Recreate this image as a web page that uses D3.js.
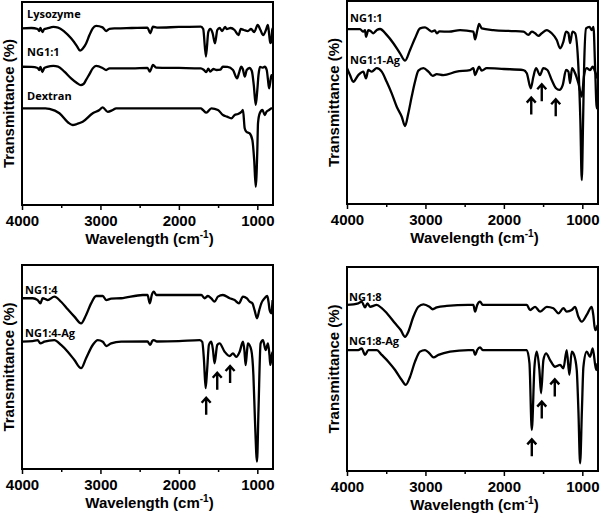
<!DOCTYPE html>
<html><head><meta charset="utf-8">
<script src="https://cdn.jsdelivr.net/npm/d3@7"></script>
<style>body{margin:0;background:#fff}</style>
</head><body>
<svg id="c" width="600" height="515"></svg>
<script>
// ---------- data (wavenumber cm-1, transmittance a.u.) ----------
const xTicks = [4000, 3000, 2000, 1000];
const xMinorTicks = [3500, 2500, 1500];
const xDomain = [4000, 800];
const yDomain = [0, 100];

const lysozyme = [[4000,87.0],[3880,87.2],[3800,86.7],[3780,85.7],[3765,87.2],[3740,85.2],[3715,86.7],[3680,87.0],[3600,87.7],[3540,87.4],[3460,85.4],[3374,82.1],[3300,78.3],[3260,76.0],[3220,77.3],[3183,79.6],[3140,83.7],[3098,87.0],[3055,88.2],[2973,87.5],[2927,85.7],[2885,86.8],[2800,87.0],[2600,87.2],[2400,87.4],[2365,84.6],[2330,87.8],[2280,87.4],[2000,87.7],[1720,87.9],[1690,86.7],[1655,73.1],[1625,85.2],[1600,86.7],[1570,84.7],[1540,79.6],[1510,86.2],[1480,87.2],[1450,85.7],[1410,87.7],[1390,86.7],[1340,87.2],[1290,86.2],[1240,83.7],[1210,86.7],[1170,86.2],[1120,85.7],[1080,86.7],[1040,85.2],[995,88.7],[960,86.2],[925,83.7],[890,86.2],[865,88.7],[848,83.7],[835,79.8],[822,80.3],[810,86.2],[800,87.2]];

const ng11a = [[4000,68.1],[3880,68.0],[3800,67.5],[3780,66.5],[3765,68.0],[3740,65.5],[3715,67.5],[3680,68.0],[3600,68.5],[3540,68.2],[3460,65.7],[3374,62.4],[3300,60.1],[3250,59.1],[3215,59.6],[3183,61.6],[3140,64.5],[3098,67.3],[3055,68.5],[2973,67.5],[2927,66.5],[2885,67.3],[2600,67.3],[2400,67.5],[2370,65.7],[2330,69.0],[2290,67.7],[2000,67.5],[1720,67.3],[1680,66.5],[1650,65.5],[1625,67.2],[1600,65.7],[1560,67.0],[1520,66.5],[1470,66.7],[1440,68.1],[1380,68.0],[1310,66.5],[1258,62.4],[1230,65.5],[1205,68.1],[1185,67.0],[1160,63.2],[1135,66.5],[1100,67.5],[1070,66.0],[1045,59.1],[1020,49.3],[1000,56.7],[985,64.0],[965,68.0],[935,67.7],[905,68.1],[880,66.5],[865,62.0],[850,57.5],[835,60.5],[820,64.0],[800,62.0]];

const dextran = [[4000,47.6],[3700,47.6],[3650,47.3],[3523,45.2],[3396,40.2],[3353,39.4],[3300,39.9],[3226,41.0],[3098,45.2],[3013,46.8],[2971,48.1],[2907,45.9],[2843,46.8],[2800,47.6],[1720,47.6],[1693,46.8],[1650,45.5],[1586,47.6],[1502,46.8],[1438,44.3],[1387,43.5],[1331,42.7],[1289,44.3],[1246,44.8],[1203,45.9],[1183,46.8],[1161,37.8],[1140,36.1],[1097,35.3],[1063,32.0],[1040,22.2],[1020,9.0],[1000,27.0],[991,40.4],[969,45.2],[935,46.8],[905,44.3],[884,45.9],[850,46.8],[820,47.6],[800,47.6]];

const ng11b = [[4000,86.1],[3900,86.1],[3834,86.1],[3792,84.9],[3770,85.7],[3758,82.4],[3728,85.7],[3700,85.2],[3665,84.1],[3620,85.7],[3579,86.2],[3494,83.3],[3409,79.2],[3324,74.2],[3260,70.6],[3196,75.9],[3133,81.6],[3069,86.5],[3005,87.0],[2960,85.9],[2920,84.9],[2880,85.5],[2856,84.1],[2820,85.0],[2700,84.9],[2559,85.7],[2389,84.9],[2367,81.1],[2338,85.7],[2316,88.7],[2282,86.5],[2134,85.7],[1900,85.2],[1751,84.9],[1687,83.3],[1644,84.9],[1602,84.1],[1560,82.8],[1517,84.1],[1453,85.7],[1390,84.1],[1326,80.8],[1283,76.7],[1241,80.0],[1207,84.9],[1177,84.1],[1156,79.2],[1126,84.9],[1092,84.1],[1050,67.6],[1025,41.4],[1007,11.8],[990,41.4],[977,67.6],[952,86.5],[909,87.3],[879,85.7],[858,87.3],[837,67.6],[816,47.1],[805,51.2]];

const ng11Ag = [[4000,66.9],[3962,63.5],[3920,60.2],[3856,63.5],[3792,65.2],[3758,61.9],[3728,66.0],[3685,65.2],[3621,66.9],[3557,65.2],[3494,60.2],[3430,54.5],[3366,47.9],[3302,43.0],[3260,38.4],[3218,44.7],[3175,52.9],[3133,60.2],[3090,65.7],[3026,66.9],[2962,65.2],[2907,63.1],[2856,64.0],[2772,63.5],[2602,65.2],[2431,66.0],[2389,66.9],[2367,63.5],[2338,66.0],[2316,67.6],[2282,65.7],[2219,66.9],[2000,66.5],[1751,66.0],[1708,64.4],[1657,57.0],[1624,62.7],[1590,66.9],[1540,63.5],[1497,66.9],[1446,66.0],[1390,61.1],[1335,57.0],[1293,56.2],[1250,58.6],[1207,66.0],[1177,65.2],[1156,59.5],[1131,66.9],[1092,64.4],[1050,59.5],[1007,52.9],[977,63.5],[944,66.9],[901,66.0],[867,67.6],[837,65.2],[808,61.9]];

const ng14 = [[4000,83.7],[3864,83.7],[3800,82.8],[3766,81.2],[3737,83.7],[3700,83.3],[3673,82.8],[3587,84.5],[3502,82.0],[3417,78.3],[3332,74.7],[3247,71.4],[3183,75.5],[3119,81.2],[3055,84.8],[2970,84.8],[2927,82.8],[2863,83.5],[2736,83.7],[2460,85.3],[2400,85.3],[2370,81.2],[2345,85.3],[2320,86.9],[2289,85.3],[2000,85.3],[1714,85.3],[1672,83.7],[1630,84.8],[1587,83.6],[1545,82.0],[1502,84.5],[1438,85.3],[1353,83.7],[1289,82.8],[1234,81.2],[1183,84.5],[1132,83.6],[1097,82.0],[1063,81.2],[1035,77.9],[1004,73.9],[975,77.9],[949,81.2],[907,83.7],[873,84.8],[855,81.4],[843,77.9],[822,76.3],[805,82.8]];

const ng14Ag = [[4000,62.4],[3864,62.7],[3800,63.2],[3766,61.6],[3715,62.4],[3587,63.2],[3502,60.8],[3417,57.5],[3332,53.4],[3247,49.4],[3183,54.3],[3098,60.8],[3034,63.2],[2970,62.4],[2927,60.3],[2863,61.6],[2736,62.4],[2400,62.5],[2365,60.8],[2340,62.7],[2320,63.2],[2280,62.5],[2000,62.7],[1736,63.2],[1702,62.3],[1680,53.4],[1659,39.6],[1640,48.5],[1617,60.8],[1587,62.4],[1565,58.3],[1545,51.8],[1511,60.8],[1481,61.6],[1417,57.5],[1353,55.4],[1311,56.7],[1268,55.0],[1225,57.5],[1183,62.4],[1165,58.3],[1149,50.9],[1130,58.3],[1119,61.6],[1077,58.3],[1050,46.1],[1030,24.0],[1004,3.6],[985,28.9],[958,61.6],[928,63.2],[894,58.3],[864,61.6],[845,55.9],[834,51.0],[815,55.9],[805,57.4]];

const ng18 = [[4000,81.4],[3856,82.2],[3813,83.0],[3770,80.2],[3740,82.2],[3706,80.5],[3621,81.4],[3557,79.8],[3473,76.5],[3387,72.4],[3315,69.1],[3260,65.8],[3218,68.3],[3154,75.6],[3090,80.5],[3026,81.7],[2949,80.5],[2907,79.3],[2856,80.2],[2729,80.9],[2453,81.4],[2389,81.4],[2367,78.1],[2340,81.4],[2304,83.0],[2270,81.4],[2000,81.4],[1708,81.4],[1666,78.9],[1602,80.5],[1538,78.1],[1453,80.5],[1369,79.8],[1305,77.3],[1241,79.8],[1199,78.1],[1135,78.9],[1092,80.5],[1050,75.6],[1007,73.2],[944,76.5],[880,80.5],[860,76.5],[837,69.1],[815,70.1],[805,71.6]];

const ng18Ag = [[4000,59.3],[3856,59.3],[3813,60.1],[3770,56.9],[3728,59.3],[3621,59.3],[3557,56.9],[3473,53.6],[3387,49.5],[3302,44.6],[3251,42.2],[3196,46.2],[3133,53.6],[3069,58.5],[3005,59.3],[2949,57.7],[2898,55.7],[2834,56.9],[2686,58.5],[2453,59.3],[2389,59.3],[2367,56.9],[2340,59.3],[2304,60.6],[2270,59.3],[2000,59.3],[1708,59.3],[1674,52.9],[1644,20.1],[1610,51.1],[1581,58.5],[1547,49.5],[1526,38.1],[1496,54.4],[1462,57.7],[1411,54.4],[1347,51.1],[1283,52.0],[1241,50.3],[1199,59.3],[1165,47.1],[1135,58.5],[1105,56.9],[1071,49.5],[1050,29.9],[1028,3.8],[1005,29.9],[986,51.1],[944,58.5],[901,56.0],[867,60.1],[824,49.5],[805,52.9]];

// arrow annotations: [wavenumber, tip transmittance]
const arrows2 = [[1651,52.9],[1517,59.5],[1339,52.1]];
const arrows3 = [[1652,35.4],[1511,47.7],[1347,51.0]];
const arrows4 = [[1644,16.0],[1517,34.5],[1351,45.4]];

const yTitle = "Transmittance (%)";

// ---------- layout ----------
const panels = [
  {x:22, y:2, w:251, h:203, labelX:5, series:[
    {name:"Lysozyme", data:lysozyme, dy:10},
    {name:"NG1:1", data:ng11a, dy:11},
    {name:"Dextran", data:dextran, dy:8}], arrows:[]},
  {x:347, y:1, w:251, h:203, labelX:3, series:[
    {name:"NG1:1", data:ng11b, dy:7},
    {name:"NG1:1-Ag", data:ng11Ag, dy:4}], arrows:arrows2},
  {x:22, y:265, w:251, h:204, labelX:3, series:[
    {name:"NG1:4", data:ng14, dy:4},
    {name:"NG1:4-Ag", data:ng14Ag, dy:5}], arrows:arrows3},
  {x:347, y:267, w:251, h:204, labelX:2, series:[
    {name:"NG1:8", data:ng18, dy:4},
    {name:"NG1:8-Ag", data:ng18Ag, dy:5}], arrows:arrows4}
];

const svg = d3.select("#c");

panels.forEach(p => {
  const g = svg.append("g").attr("transform", `translate(${p.x},${p.y})`);
  const x = d3.scaleLinear().domain(xDomain).range([0, p.w]);
  const y = d3.scaleLinear().domain(yDomain).range([p.h, 0]);

  const line = d3.line().x(d => x(d[0])).y(d => y(d[1])).curve(d3.curveMonotoneX);

  p.series.forEach(s => {
    g.append("path").datum(s.data).attr("d", line)
      .attr("fill", "none").attr("stroke", "#000").attr("stroke-width", 2.3)
      .attr("stroke-linejoin", "round");
    g.append("text").attr("x", p.labelX).attr("y", y(s.data[0][1]) - s.dy)
      .attr("font-family", "'Open Sans', sans-serif").attr("font-weight", 700)
      .attr("font-size", 11).text(s.name);
  });

  p.arrows.forEach(a => {
    const ax = x(a[0]), ay = y(a[1]);
    g.append("path")
      .attr("d", `M${ax},${ay+18}L${ax},${ay+1}M${ax-4.5},${ay+6}L${ax},${ay+1}L${ax+4.5},${ay+6}`)
      .attr("fill", "none").attr("stroke", "#000").attr("stroke-width", 2.4)
      .attr("stroke-linejoin", "miter");
  });

  // frame
  g.append("rect").attr("x", 0).attr("y", 0).attr("width", p.w).attr("height", p.h)
    .attr("fill", "none").attr("stroke", "#000").attr("stroke-width", 2);

  // axes
  const ax = g.append("g").attr("transform", `translate(0,${p.h})`)
    .call(d3.axisBottom(x).tickValues(xTicks).tickSize(5).tickFormat(d3.format("d")));
  ax.select(".domain").remove();
  ax.selectAll("line").attr("stroke-width", 1.5);
  ax.selectAll("text").attr("y", 21).attr("dy", null)
    .attr("font-family", "'Liberation Sans', Arial, sans-serif").attr("font-weight", 700)
    .attr("font-size", 15).attr("fill", "#000");
  const axm = g.append("g").attr("transform", `translate(0,${p.h})`)
    .call(d3.axisBottom(x).tickValues(xMinorTicks).tickSize(3).tickFormat(""));
  axm.select(".domain").remove();
  axm.selectAll("line").attr("stroke-width", 1.5);

  // x title
  const xt = g.append("text").attr("x", p.w / 2 + 2).attr("y", p.h + 39)
    .attr("text-anchor", "middle")
    .attr("font-family", "'Liberation Sans', Arial, sans-serif").attr("font-weight", 700)
    .attr("font-size", 15);
  xt.append("tspan").text("Wavelength (cm");
  xt.append("tspan").attr("font-size", 10).attr("dy", -6).text("-1");
  xt.append("tspan").attr("dy", 6).text(")");

  // y title
  g.append("text").attr("transform", `translate(-8.5,${p.h / 2}) rotate(-90)`)
    .attr("text-anchor", "middle")
    .attr("font-family", "'Liberation Sans', Arial, sans-serif").attr("font-weight", 700)
    .attr("font-size", 15).text(yTitle);
});
</script>
</body></html>
